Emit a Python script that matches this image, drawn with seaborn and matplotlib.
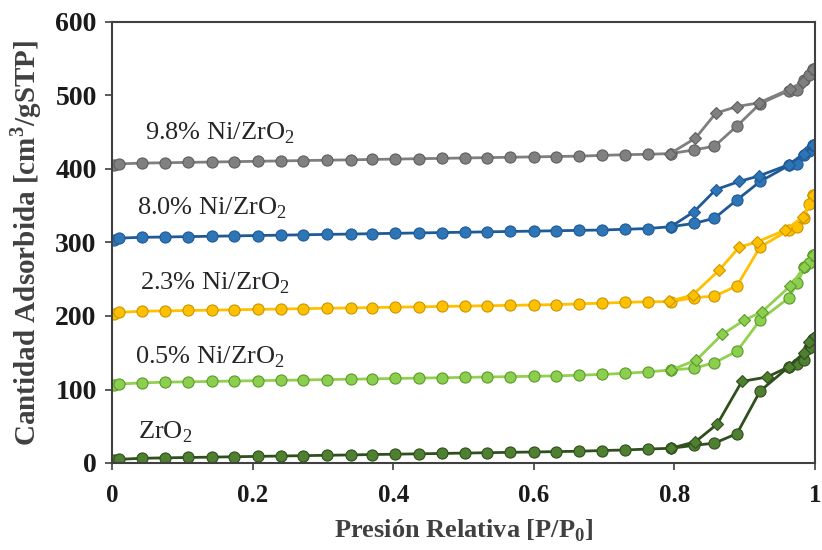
import matplotlib
matplotlib.use("Agg")
import matplotlib.pyplot as plt
import seaborn as sns
import pandas as pd

# ---------------- data ----------------
x_ads = [0.003, 0.010, 0.042, 0.076, 0.108, 0.142, 0.174, 0.207, 0.240, 0.272,
         0.306, 0.340, 0.370, 0.403, 0.436, 0.469, 0.502, 0.534, 0.566, 0.600,
         0.632, 0.664, 0.697, 0.730, 0.762, 0.795, 0.828, 0.857, 0.889, 0.922,
         0.963, 0.975, 0.985, 0.991, 0.997]

zro2_ads = [4, 5, 6.4, 7, 7.5, 8, 8.5, 9, 9.5, 10, 10.5, 11, 11.5, 12, 12.5, 13,
            13.5, 14, 14.5, 15, 15.5, 16, 17, 17.7, 19, 20, 24, 27, 40, 98,
            131, 135, 140, 156, 169]
zro2_des_x = [0.997, 0.991, 0.984, 0.963, 0.932, 0.896, 0.861, 0.830, 0.795]
zro2_des = [170, 165, 150, 131, 117, 111, 53, 29, 20]

ni05_ads = [106, 107.5, 109, 110, 110.5, 111, 111.5, 112, 112.5, 113, 113.5, 114,
            114.5, 115, 115.5, 116, 116.5, 117, 117.5, 118, 118.5, 119.5, 120.5,
            122, 124, 126.5, 129, 136.5, 152, 194.6, 225, 245, 266, 272, 283]
ni05_des_x = [0.997, 0.985, 0.965, 0.925, 0.899, 0.868, 0.831, 0.795]
ni05_des = [283, 267, 241, 206, 194, 175, 140, 126.5]

ni23_ads = [203, 205, 206.5, 207, 207.5, 208, 208.5, 209, 209.5, 210, 210.5, 211,
            211.5, 212, 212.5, 213, 213.5, 214, 214.5, 215, 215.5, 216.5, 217.5,
            218.5, 219.5, 219.5, 225, 227, 241, 294, 317, 321, 333, 353, 365]
ni23_des_x = [0.997, 0.983, 0.958, 0.918, 0.892, 0.864, 0.826, 0.793]
ni23_des = [365, 335, 317, 301, 293.5, 262.6, 228.6, 220]

ni80_ads = [304, 306, 307, 307.5, 308, 308.5, 309, 309.5, 310, 310.5, 311, 311.5,
            312, 312.5, 313, 313.5, 314, 314.5, 315, 315.5, 316, 316.5, 317, 318,
            319, 321.5, 326, 333, 358, 383, 405, 407, 419, 425, 433]
ni80_des_x = [0.997, 0.984, 0.963, 0.920, 0.892, 0.859, 0.828, 0.795]
ni80_des = [433, 421, 406, 390.5, 383, 372, 342, 321.5]

ni98_ads = [405, 407, 408, 408.5, 409, 409.5, 410, 410.5, 411, 411.5, 412, 412.5,
            413, 413.5, 414, 414.5, 415, 415.5, 416, 416.5, 417, 417.5, 418.5,
            419.5, 420, 421, 426, 431, 458.5, 489, 506.5, 508, 521, 528, 536]
ni98_des_x = [0.997, 0.983, 0.965, 0.920, 0.889, 0.859, 0.830, 0.794]
ni98_des = [536, 519, 509, 490, 485, 476, 442, 421]

labels = ["ZrO$_\\mathregular{2}$", "0.5% Ni/ZrO$_\\mathregular{2}$",
          "2.3% Ni/ZrO$_\\mathregular{2}$", "8.0% Ni/ZrO$_\\mathregular{2}$",
          "9.8% Ni/ZrO$_\\mathregular{2}$"]
label_pos = [(0.037, 42), (0.033, 144), (0.040, 245), (0.035, 347), (0.047, 449)]

x_ticks = [0, 0.2, 0.4, 0.6, 0.8, 1]
x_ticklabels = ["0", "0.2", "0.4", "0.6", "0.8", "1"]
y_ticks = [0, 100, 200, 300, 400, 500, 600]

# ---------------- style ----------------
sns.set_theme(style="white")
plt.rcParams["font.family"] = ["Liberation Serif", "DejaVu Serif"]
plt.rcParams["mathtext.fontset"] = "custom"
plt.rcParams["mathtext.rm"] = "Liberation Serif"
plt.rcParams["mathtext.bf"] = "Liberation Serif:bold"

series = [
    (zro2_ads, zro2_des_x, zro2_des, "#2f4f1d", "#4f7f30", "#2f4f1d"),
    (ni05_ads, ni05_des_x, ni05_des, "#92d050", "#8ccf4f", "#5a9a2a"),
    (ni23_ads, ni23_des_x, ni23_des, "#ffc000", "#ffc000", "#c89600"),
    (ni80_ads, ni80_des_x, ni80_des, "#1f5a96", "#2e75b6", "#1f5a96"),
    (ni98_ads, ni98_des_x, ni98_des, "#7f7f7f", "#808080", "#5f5f5f"),
]

fig = plt.figure(figsize=(8.22, 5.5), dpi=100)
ax = fig.add_axes([112 / 822, 1 - 463 / 550, 703 / 822, 441 / 550])

for ads, dx, des, lc, mfc, mec in series:
    df_a = pd.DataFrame({"x": x_ads, "y": ads})
    df_d = pd.DataFrame({"x": dx, "y": des})
    sns.lineplot(data=df_a, x="x", y="y", ax=ax, sort=False, estimator=None,
                 color=lc, linewidth=2.0, marker="o", markersize=8,
                 markerfacecolor=mfc, markeredgecolor=mec, markeredgewidth=0.8)
    sns.lineplot(data=df_d, x="x", y="y", ax=ax, sort=False, estimator=None,
                 color=lc, linewidth=2.0, marker="D", markersize=6,
                 markerfacecolor=mfc, markeredgecolor=mec, markeredgewidth=0.8)

for lab, (lx, ly) in zip(labels, label_pos):
    ax.text(lx, ly, lab, fontsize=19, color="#262626", va="center", ha="left")

ax.set_xlim(0, 1)
ax.set_ylim(0, 600)
ax.set_xticks(x_ticks)
ax.set_xticklabels(x_ticklabels)
ax.set_yticks(y_ticks)
for t in ax.get_xticklabels():
    t.set_fontweight("bold")
    t.set_fontsize(18)
    t.set_color("#1a1a1a")
for t in ax.get_yticklabels():
    t.set_fontweight("bold")
    t.set_fontsize(20)
    t.set_color("#1a1a1a")

ax.tick_params(axis="both", direction="out", length=5, width=1.2, color="#404040",
               bottom=True, left=True)
ax.tick_params(axis="x", pad=10)
ax.tick_params(axis="y", pad=6)
for sp in ax.spines.values():
    sp.set_visible(True)
    sp.set_color("#404040")
    sp.set_linewidth(1.5)

ax.set_xlabel("Presión Relativa [P/P$_\\mathbf{0}$]", fontsize=19, fontweight="bold",
              color="#404040", labelpad=8)
ax.set_ylabel("Cantidad Adsorbida [cm$^\\mathbf{3}$/gSTP]", fontsize=21,
              fontweight="bold", color="#404040", labelpad=8)

fig.savefig("out.png", dpi=100)
